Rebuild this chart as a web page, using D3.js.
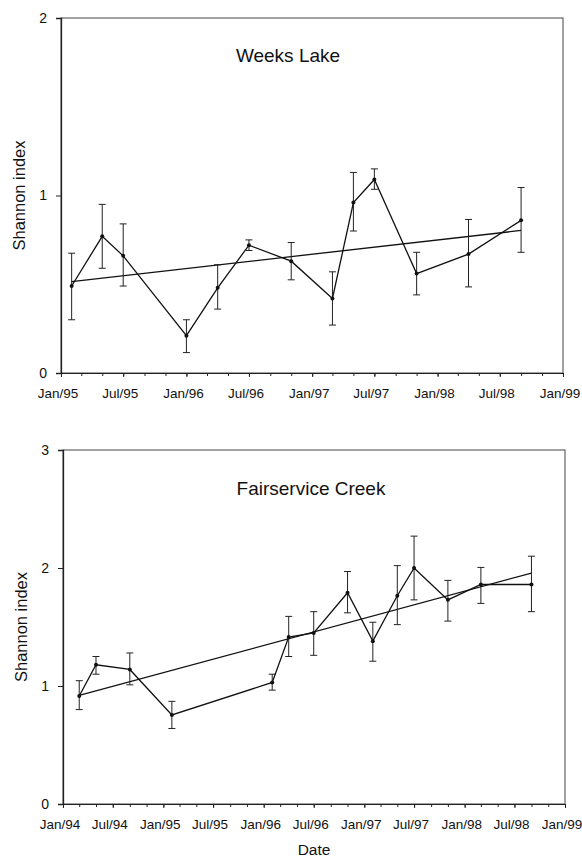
<!DOCTYPE html>
<html>
<head>
<meta charset="utf-8">
<script src="https://cdn.jsdelivr.net/npm/d3@7"></script>
<style>
  html, body { margin: 0; padding: 0; background: #fff; }
  svg { display: block; }
  text { font-family: "Liberation Sans", Arial, sans-serif; fill: #111; }
</style>
</head>
<body>
<svg id="chart" width="582" height="859"></svg>
<script>
// Weeks Lake: sampling dates, mean Shannon index and error-bar limits
const weeksDates = ["1995-02", "1995-05", "1995-07", "1996-01", "1996-04", "1996-07", "1996-11",
                    "1997-03", "1997-05", "1997-07", "1997-11", "1998-04", "1998-09"];
const weeksMean  = [0.49, 0.77, 0.66, 0.21, 0.48, 0.72, 0.63, 0.42, 0.96, 1.09, 0.56, 0.67, 0.86];
const weeksHigh  = [0.675, 0.95, 0.84, 0.30, 0.61, 0.75, 0.735, 0.57, 1.13, 1.15, 0.68, 0.865, 1.045];
const weeksLow   = [0.30, 0.59, 0.49, 0.115, 0.36, 0.69, 0.525, 0.27, 0.80, 1.035, 0.44, 0.485, 0.68];
const weeksTrend = [0.515, 0.803];

// Fairservice Creek
const fairDates = ["1994-03", "1994-05", "1994-09", "1995-02", "1996-02", "1996-04", "1996-07",
                   "1996-11", "1997-02", "1997-05", "1997-07", "1997-11", "1998-03", "1998-09"];
const fairMean  = [0.915, 1.18, 1.14, 0.755, 1.03, 1.415, 1.45, 1.79, 1.38, 1.765, 2.00, 1.73, 1.86, 1.86];
const fairHigh  = [1.045, 1.25, 1.28, 0.87, 1.10, 1.59, 1.63, 1.97, 1.54, 2.02, 2.27, 1.895, 2.005, 2.10];
const fairLow   = [0.80, 1.10, 1.01, 0.64, 0.965, 1.25, 1.26, 1.62, 1.21, 1.52, 1.73, 1.55, 1.70, 1.63];
const fairTrend = [0.92, 1.957];

const weeksTicks = [0, 1, 2];
const fairTicks  = [0, 1, 2, 3];

const parseMonth = d3.timeParse("%Y-%m");
const fmtTick = d3.timeFormat("%b/%y");
const FONT = '"Liberation Sans", Arial, sans-serif';

const svg = d3.select("#chart");

function panel(opt) {
  const x = d3.scaleTime().domain(opt.xDomain).range([opt.left, opt.right]);
  const y = d3.scaleLinear().domain(opt.yDomain).range([opt.bottom, opt.top]);
  const g = svg.append("g");

  const rows = opt.dates.map((d, i) => ({
    date: parseMonth(d), mean: opt.mean[i], hi: opt.high[i], lo: opt.low[i]
  }));

  // frame
  g.append("rect")
    .attr("x", opt.left).attr("y", opt.top)
    .attr("width", opt.right - opt.left).attr("height", opt.bottom - opt.top)
    .attr("fill", "none").attr("stroke", "#444").attr("stroke-width", 1);

  // x axis: labels every six months, ticks every two months
  const major = d3.timeMonth.every(6).range(opt.xDomain[0], d3.timeDay.offset(opt.xDomain[1], 1));
  const minor = d3.timeMonth.every(2).range(opt.xDomain[0], d3.timeDay.offset(opt.xDomain[1], 1));
  const xMinor = g.append("g").attr("transform", `translate(0,${opt.bottom})`)
    .call(d3.axisBottom(x).tickValues(minor).tickSize(3).tickFormat(""));
  const xAxis = g.append("g").attr("transform", `translate(0,${opt.bottom})`)
    .call(d3.axisBottom(x).tickValues(major).tickSize(4).tickPadding(11).tickFormat(fmtTick));
  [xMinor, xAxis].forEach(a => {
    a.select(".domain").attr("stroke", "#222");
    a.selectAll(".tick line").attr("stroke", "#222");
  });
  xAxis.selectAll(".tick text")
    .attr("font-size", 13.5).attr("dx", -3.5)
    .style("font-family", FONT).attr("fill", "#111");

  // y axis
  const yAxis = g.append("g").attr("transform", `translate(${opt.left},0)`)
    .call(d3.axisLeft(y).tickValues(opt.yTicks).tickSize(5).tickPadding(9).tickFormat(d3.format("d")));
  yAxis.select(".domain").attr("stroke", "#222").attr("stroke-width", 1.3);
  yAxis.selectAll(".tick line").attr("stroke", "#222");
  yAxis.selectAll(".tick text").attr("font-size", 14).style("font-family", FONT).attr("fill", "#111");

  // y title
  g.append("text")
    .attr("transform", `translate(${opt.yTitleX},${(opt.top + opt.bottom) / 2}) rotate(-90)`)
    .attr("text-anchor", "middle").attr("font-size", 16.5)
    .text("Shannon index");

  // panel title
  g.append("text")
    .attr("x", opt.titleX).attr("y", opt.titleY)
    .attr("text-anchor", "middle").attr("font-size", 19)
    .text(opt.title);

  // linear trend across the sampling period
  const first = rows[0].date, last = rows[rows.length - 1].date;
  g.append("line")
    .attr("x1", x(first)).attr("y1", y(opt.trend[0]))
    .attr("x2", x(last)).attr("y2", y(opt.trend[1]))
    .attr("stroke", "#111").attr("stroke-width", 1.3);

  // error bars
  const cap = 3.5;
  const eb = g.append("g").attr("stroke", "#222").attr("stroke-width", 1);
  rows.forEach(r => {
    const cx = x(r.date);
    eb.append("line").attr("x1", cx).attr("x2", cx).attr("y1", y(r.lo)).attr("y2", y(r.hi));
    eb.append("line").attr("x1", cx - cap).attr("x2", cx + cap).attr("y1", y(r.hi)).attr("y2", y(r.hi));
    eb.append("line").attr("x1", cx - cap).attr("x2", cx + cap).attr("y1", y(r.lo)).attr("y2", y(r.lo));
  });

  // mean series
  g.append("path").datum(rows)
    .attr("fill", "none").attr("stroke", "#111").attr("stroke-width", 1.3)
    .attr("d", d3.line().x(d => x(d.date)).y(d => y(d.mean)));
  g.selectAll("circle.pt").data(rows).join("circle")
    .attr("class", "pt")
    .attr("cx", d => x(d.date)).attr("cy", d => y(d.mean))
    .attr("r", 2).attr("fill", "#111");
}

panel({
  title: "Weeks Lake", titleX: 288, titleY: 62,
  dates: weeksDates, mean: weeksMean, high: weeksHigh, low: weeksLow, trend: weeksTrend,
  xDomain: [new Date(1995, 0, 1), new Date(1999, 0, 1)], yDomain: [0, 2], yTicks: weeksTicks,
  left: 61, right: 563, top: 18, bottom: 373, yTitleX: 25
});

panel({
  title: "Fairservice Creek", titleX: 311, titleY: 495,
  dates: fairDates, mean: fairMean, high: fairHigh, low: fairLow, trend: fairTrend,
  xDomain: [new Date(1994, 0, 1), new Date(1999, 0, 1)], yDomain: [0, 3], yTicks: fairTicks,
  left: 63, right: 565, top: 450, bottom: 804, yTitleX: 27
});

svg.append("text")
  .attr("x", 314).attr("y", 855)
  .attr("text-anchor", "middle").attr("font-size", 15.5)
  .text("Date");
</script>
</body>
</html>
